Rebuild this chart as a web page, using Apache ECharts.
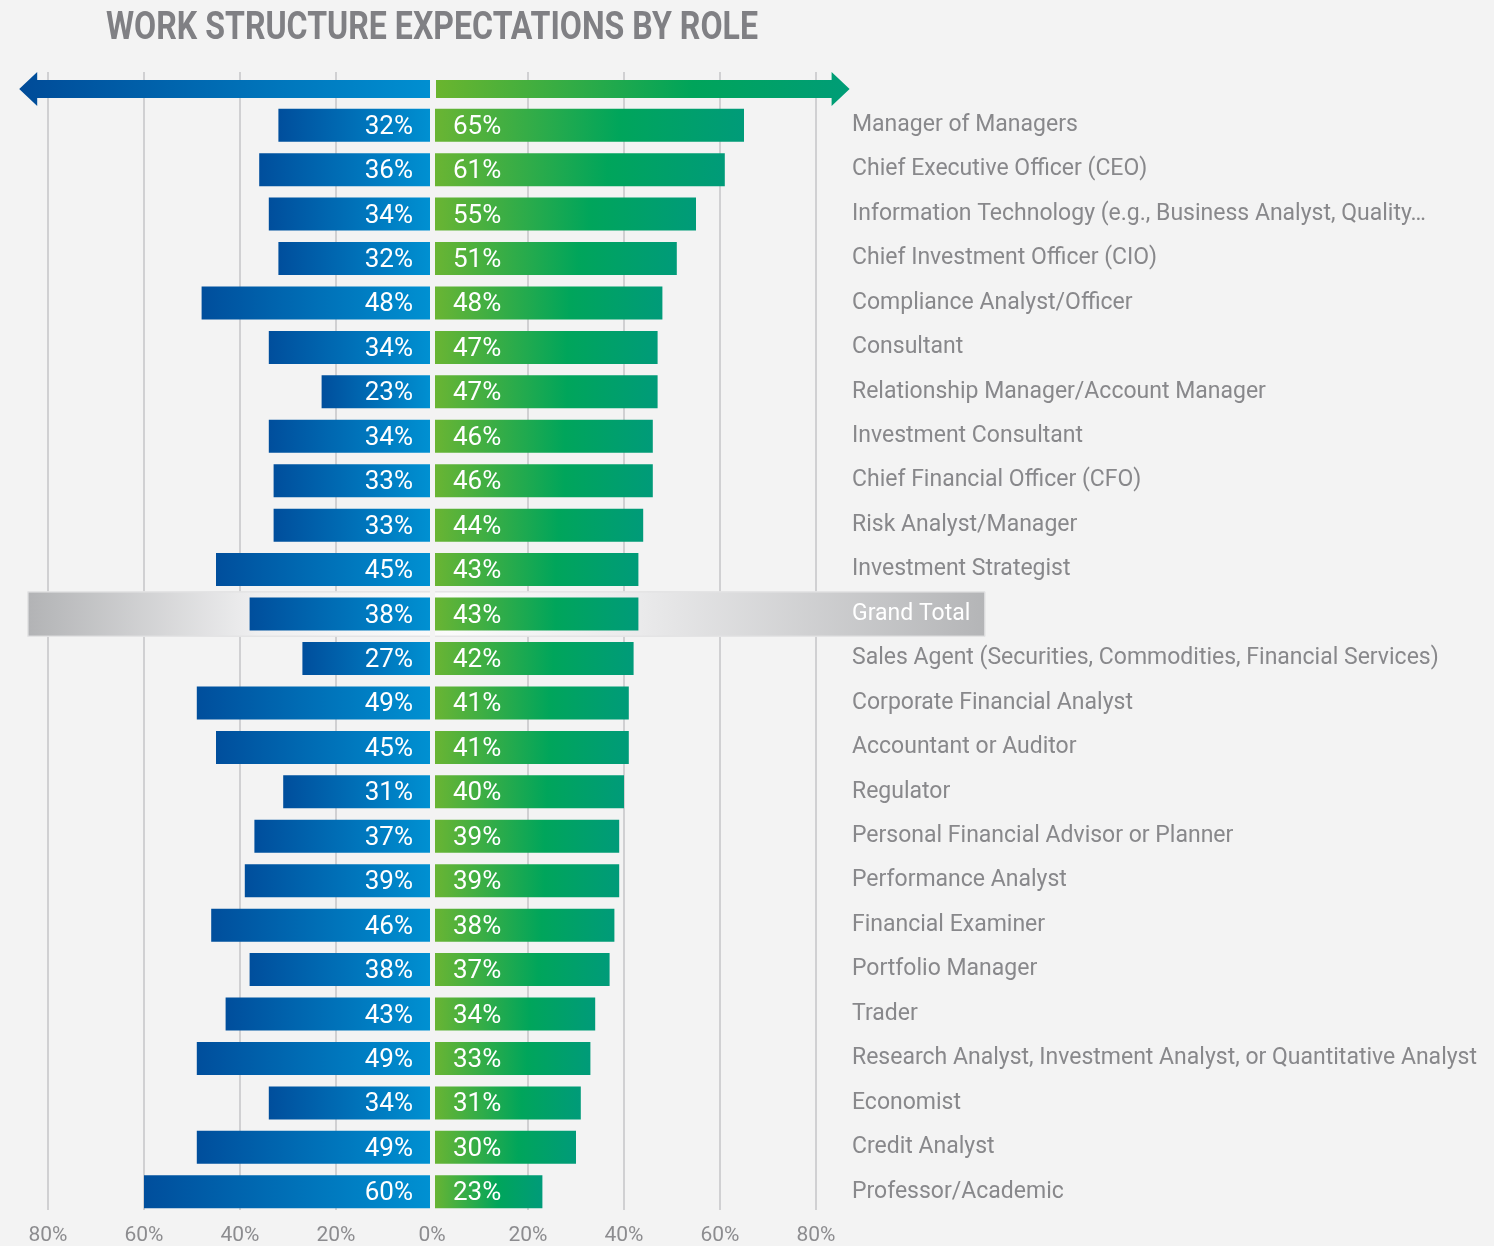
<!DOCTYPE html>
<html>
<head>
<meta charset="utf-8">
<style>
  html, body { margin: 0; padding: 0; background: #f3f3f3; }
  #chart { width: 1494px; height: 1246px; }
</style>
<script src="https://cdn.jsdelivr.net/npm/echarts@6/dist/echarts.min.js"></script>
</head>
<body>
<div id="chart"></div>
<script>
// roles, top to bottom
const roles = [
  'Manager of Managers',
  'Chief Executive Officer (CEO)',
  'Information Technology (e.g., Business Analyst, Quality…',
  'Chief Investment Officer (CIO)',
  'Compliance Analyst/Officer',
  'Consultant',
  'Relationship Manager/Account Manager',
  'Investment Consultant',
  'Chief Financial Officer (CFO)',
  'Risk Analyst/Manager',
  'Investment Strategist',
  'Grand Total',
  'Sales Agent (Securities, Commodities, Financial Services)',
  'Corporate Financial Analyst',
  'Accountant or Auditor',
  'Regulator',
  'Personal Financial Advisor or Planner',
  'Performance Analyst',
  'Financial Examiner',
  'Portfolio Manager',
  'Trader',
  'Research Analyst, Investment Analyst, or Quantitative Analyst',
  'Economist',
  'Credit Analyst',
  'Professor/Academic'
];
// blue (left side) and green (right side) shares, %
const leftValues = [32, 36, 34, 32, 48, 34, 23, 34, 33, 33, 45, 38, 27, 49, 45, 31, 37, 39, 46, 38, 43, 49, 34, 49, 60];
const rightValues = [65, 61, 55, 51, 48, 47, 47, 46, 46, 44, 43, 43, 42, 41, 41, 40, 39, 39, 38, 37, 34, 33, 31, 30, 23];
const axisTicks = [-80, -60, -40, -20, 0, 20, 40, 60, 80];
const highlightRole = 'Grand Total';
const titleText = 'WORK STRUCTURE EXPECTATIONS BY ROLE';

const BG = '#f3f3f3';
const GRID_L = 48, GRID_R = 1494 - 816;
const FONT = 'Roboto, "Noto Sans", sans-serif';

const blueGrad = new echarts.graphic.LinearGradient(0, 0, 1, 0, [
  { offset: 0, color: '#004e9c' },
  { offset: 1, color: '#0091d2' }
]);
const greenGrad = new echarts.graphic.LinearGradient(0, 0, 1, 0, [
  { offset: 0, color: '#6cb532' },
  { offset: 0.6, color: '#00a55b' },
  { offset: 1, color: '#009b79' }
]);
const bandGrad = new echarts.graphic.LinearGradient(0, 0, 1, 0, [
  { offset: 0, color: '#b2b3b5' },
  { offset: 0.24, color: '#efeff0' },
  { offset: 0.44, color: '#fbfbfb' },
  { offset: 0.64, color: '#eaeaeb' },
  { offset: 1, color: '#b4b5b7' }
]);

const hlIndex = roles.indexOf(highlightRole);
const tickColors = axisTicks.map(t => (t === 0 ? 'rgba(0,0,0,0)' : '#c5c5c7'));

// the title font is condensed in the original: squeeze Roboto bold to its width
const TITLE_SIZE = 39, TITLE_W = 652;
const ctx = document.createElement('canvas').getContext('2d');
ctx.font = 'bold ' + TITLE_SIZE + 'px Roboto';
const titleScale = Math.min(1, TITLE_W / ctx.measureText(titleText).width);

const chart = echarts.init(document.getElementById('chart'));

const option = {
  backgroundColor: BG,
  animation: false,
  grid: [
    { left: GRID_L, right: GRID_R, top: 72, bottom: 32 },
    { left: GRID_L, right: GRID_R, top: 103, bottom: 32 }
  ],
  xAxis: [
    {
      gridIndex: 0, type: 'value', min: -80, max: 80, interval: 20,
      axisLine: { show: false }, axisTick: { show: false },
      splitLine: { show: true, lineStyle: { color: tickColors, width: 1.5 } },
      axisLabel: {
        margin: 15, fontSize: 21, color: '#8c8c8f', fontFamily: FONT,
        formatter: v => Math.abs(v) + '%'
      }
    },
    { gridIndex: 1, type: 'value', min: -80, max: 80, show: false }
  ],
  yAxis: [
    { gridIndex: 0, type: 'value', show: false },
    {
      gridIndex: 1, type: 'category', inverse: true, position: 'right', z: 10,
      data: roles.map(r => (r === highlightRole
        ? { value: r, textStyle: { color: '#ffffff' } }
        : r)),
      axisLine: { show: false }, axisTick: { show: false },
      axisLabel: {
        margin: 36, fontSize: 23, color: '#88888b', fontFamily: FONT,
        padding: [5, 0, 0, 0]
      }
    }
  ],
  series: [
    {
      type: 'custom',
      xAxisIndex: 1, yAxisIndex: 1,
      z: 1, silent: true,
      encode: { x: [0, 1], y: 2 },
      data: [[-84.2, 115.2, hlIndex]],
      renderItem: function (params, api) {
        const p0 = api.coord([api.value(0), api.value(2)]);
        const p1 = api.coord([api.value(1), api.value(2)]);
        const h = api.size([0, 1])[1];
        return {
          type: 'rect',
          shape: { x: p0[0], y: p0[1] - h / 2, width: p1[0] - p0[0], height: h },
          style: { fill: bandGrad, stroke: '#e4e4e5', lineWidth: 1 }
        };
      }
    },
    {
      name: 'left', type: 'bar',
      xAxisIndex: 1, yAxisIndex: 1, z: 2,
      barWidth: 33, barGap: '-100%',
      data: leftValues.map(v => -v),
      itemStyle: { color: blueGrad },
      label: {
        show: true, position: 'insideRight', distance: 19, offset: [0, 2],
        color: '#fff', fontSize: 26, fontFamily: FONT,
        formatter: p => Math.abs(p.value) + '%'
      }
    },
    {
      name: 'right', type: 'bar',
      xAxisIndex: 1, yAxisIndex: 1, z: 3,
      barWidth: 33, barGap: '-100%',
      data: rightValues,
      itemStyle: { color: greenGrad },
      label: {
        show: true, position: 'insideLeft', distance: 21, offset: [0, 2],
        color: '#fff', fontSize: 26, fontFamily: FONT,
        formatter: p => p.value + '%'
      },
      markLine: {
        silent: true, symbol: 'none',
        label: { show: false },
        lineStyle: { color: BG, width: 5, type: 'solid' },
        emphasis: { disabled: true },
        data: [{ xAxis: 0 }]
      }
    }
  ]
};
chart.setOption(option);

// title and direction arrows above the bars
function drawDecor() {
  const px = v => chart.convertToPixel({ xAxisIndex: 0 }, v);
  const z0 = px(0);
  const lTip = px(-86), rTip = px(87);
  const head = 18, yMid = 89, body = 9, wing = 17;
  const leftPts = [
    [lTip, yMid], [lTip + head, yMid - wing], [lTip + head, yMid - body],
    [z0 - 2, yMid - body], [z0 - 2, yMid + body], [lTip + head, yMid + body],
    [lTip + head, yMid + wing]
  ];
  const rightPts = [
    [z0 + 4, yMid - body], [rTip - head, yMid - body], [rTip - head, yMid - wing],
    [rTip, yMid], [rTip - head, yMid + wing], [rTip - head, yMid + body],
    [z0 + 4, yMid + body]
  ];
  chart.setOption({
    graphic: [
      {
        id: 'title', type: 'text', x: 106, y: 10, z: 10, silent: true,
        scaleX: titleScale,
        style: {
          text: titleText,
          font: 'bold ' + TITLE_SIZE + 'px Roboto',
          fill: '#808084'
        }
      },
      {
        id: 'arrowLeft', type: 'polygon', z: 10, silent: true, shape: { points: leftPts },
        style: {
          fill: new echarts.graphic.LinearGradient(0, 0, 1, 0, [
            { offset: 0, color: '#004b98' }, { offset: 1, color: '#008fd1' }
          ])
        }
      },
      {
        id: 'arrowRight', type: 'polygon', z: 10, silent: true, shape: { points: rightPts },
        style: {
          fill: new echarts.graphic.LinearGradient(0, 0, 1, 0, [
            { offset: 0, color: '#6ab52e' }, { offset: 0.62, color: '#00a45a' },
            { offset: 1, color: '#009d77' }
          ])
        }
      }
    ]
  });
}
drawDecor();
</script>
</body>
</html>
